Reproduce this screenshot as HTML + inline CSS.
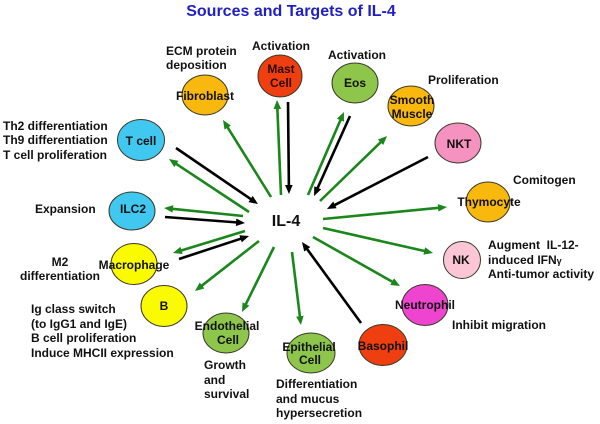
<!DOCTYPE html>
<html>
<head>
<meta charset="utf-8">
<style>
  html,body{margin:0;padding:0;background:#fff;}
  svg{display:block;}
  text{font-family:"Liberation Sans",Arial,sans-serif;font-weight:bold;}
</style>
</head>
<body>
<svg width="600" height="424" viewBox="0 0 600 424" xmlns="http://www.w3.org/2000/svg">
  <defs>
    <marker id="ag" viewBox="0 -4 9 8" markerWidth="9" markerHeight="8" refX="2" refY="0" orient="auto" markerUnits="userSpaceOnUse">
      <path d="M0,-3.8 L9,0 L0,3.8 z" fill="#1b861b"/>
    </marker>
    <marker id="ak" viewBox="0 -4 9 8" markerWidth="9" markerHeight="8" refX="2" refY="0" orient="auto" markerUnits="userSpaceOnUse">
      <path d="M0,-3.8 L9,0 L0,3.8 z" fill="#000"/>
    </marker>
  </defs>
  <rect width="600" height="424" fill="#fff"/>

  <!-- Title -->
  <text x="291" y="16" text-anchor="middle" font-size="16" fill="#1f1fc4">Sources and Targets of IL-4</text>

  <!-- Arrows -->
  <g stroke-width="2.6" fill="none">
    <line x1="271" y1="197" x2="226.7" y2="125.9" stroke="#1b861b" marker-end="url(#ag)"/>
    <line x1="281" y1="195" x2="277.3" y2="107" stroke="#1b861b" marker-end="url(#ag)"/>
    <line x1="288" y1="102" x2="288.9" y2="187" stroke="#000" marker-end="url(#ak)"/>
    <line x1="308" y1="195" x2="341.2" y2="118.4" stroke="#1b861b" marker-end="url(#ag)"/>
    <line x1="350" y1="116" x2="316.9" y2="189.6" stroke="#000" marker-end="url(#ak)"/>
    <line x1="320" y1="201" x2="382" y2="140.9" stroke="#1b861b" marker-end="url(#ag)"/>
    <line x1="428" y1="157" x2="333.2" y2="205.8" stroke="#000" marker-end="url(#ak)"/>
    <line x1="323" y1="219" x2="440" y2="207.7" stroke="#1b861b" marker-end="url(#ag)"/>
    <line x1="323" y1="228" x2="426.2" y2="251.4" stroke="#1b861b" marker-end="url(#ag)"/>
    <line x1="313" y1="237" x2="393.9" y2="282.6" stroke="#1b861b" marker-end="url(#ag)"/>
    <line x1="361" y1="323" x2="306.1" y2="247.7" stroke="#000" marker-end="url(#ak)"/>
    <line x1="292" y1="252" x2="300.1" y2="318.1" stroke="#1b861b" marker-end="url(#ag)"/>
    <line x1="274" y1="247" x2="245.1" y2="305.7" stroke="#1b861b" marker-end="url(#ag)"/>
    <line x1="259" y1="241" x2="200.5" y2="286.7" stroke="#1b861b" marker-end="url(#ag)"/>
    <line x1="245" y1="231" x2="179.7" y2="251" stroke="#1b861b" marker-end="url(#ag)"/>
    <line x1="179" y1="259" x2="242.4" y2="238.2" stroke="#000" marker-end="url(#ak)"/>
    <line x1="243" y1="216" x2="171" y2="208.7" stroke="#1b861b" marker-end="url(#ag)"/>
    <line x1="165" y1="217" x2="238" y2="222.5" stroke="#000" marker-end="url(#ak)"/>
    <line x1="249" y1="212" x2="174.8" y2="162.9" stroke="#1b861b" marker-end="url(#ag)"/>
    <line x1="176" y1="148" x2="252.2" y2="200.1" stroke="#000" marker-end="url(#ak)"/>
  </g>

  <!-- Cells -->
  <g stroke="#3a3a2a" stroke-width="1">
    <ellipse cx="205" cy="95" rx="23" ry="20" fill="#f9b80e"/>
    <ellipse cx="280" cy="76" rx="22" ry="21" fill="#ef3f10"/>
    <ellipse cx="355" cy="83" rx="23" ry="20" fill="#8dc64a"/>
    <ellipse cx="411" cy="106" rx="23" ry="20" fill="#f9b80e"/>
    <ellipse cx="458" cy="143" rx="23" ry="20" fill="#f592c0"/>
    <ellipse cx="488" cy="202" rx="22" ry="20" fill="#f9b80e"/>
    <ellipse cx="462" cy="260" rx="18.5" ry="18.5" fill="#fcc6d6"/>
    <ellipse cx="425" cy="305" rx="23" ry="20.5" fill="#ee44d0"/>
    <ellipse cx="383" cy="345" rx="24" ry="20.5" fill="#ef3f10"/>
    <ellipse cx="311" cy="353" rx="24" ry="20" fill="#8dc64a"/>
    <ellipse cx="226" cy="333" rx="23" ry="20" fill="#8dc64a"/>
    <ellipse cx="164" cy="306" rx="23" ry="20.5" fill="#fafa00"/>
    <ellipse cx="134" cy="264" rx="23" ry="20.5" fill="#fafa00"/>
    <ellipse cx="132" cy="211" rx="23" ry="19" fill="#40c8f0"/>
    <ellipse cx="141" cy="140" rx="23.5" ry="20.5" fill="#40c8f0"/>
  </g>

  <!-- IL-4 -->
  <text x="286" y="226" text-anchor="middle" font-size="16" fill="#111">IL-4</text>

  <!-- Cell labels -->
  <g font-size="12" fill="#111" text-anchor="middle">
    <text x="205" y="100">Fibroblast</text>
    <text x="281" y="73" fill="#2a0a00">Mast</text>
    <text x="281" y="87" fill="#2a0a00">Cell</text>
    <text x="355" y="87">Eos</text>
    <text x="412" y="104">Smooth</text>
    <text x="412" y="118">Muscle</text>
    <text x="459" y="148">NKT</text>
    <text x="489" y="206">Thymocyte</text>
    <text x="461" y="264">NK</text>
    <text x="425" y="309">Neutrophil</text>
    <text x="383" y="350">Basophil</text>
    <text x="309" y="351">Epithelial</text>
    <text x="310" y="364">Cell</text>
    <text x="227" y="330">Endothelial</text>
    <text x="228" y="344">Cell</text>
    <text x="164" y="310">B</text>
    <text x="134" y="269">Macrophage</text>
    <text x="133" y="213">ILC2</text>
    <text x="141" y="145">T cell</text>
  </g>

  <!-- Function labels -->
  <g font-size="12" fill="#111">
    <text x="166" y="55">ECM protein</text>
    <text x="166" y="69">deposition</text>
    <text x="252" y="50">Activation</text>
    <text x="328" y="59">Activation</text>
    <text x="428" y="84">Proliferation</text>
    <text x="513" y="184">Comitogen</text>
    <text x="488" y="249" xml:space="preserve">Augment  IL-12-</text>
    <text x="488" y="264">induced IFN<tspan font-size="9">γ</tspan></text>
    <text x="488" y="278">Anti-tumor activity</text>
    <text x="452" y="329">Inhibit migration</text>
    <text x="276" y="388">Differentiation</text>
    <text x="276" y="403">and mucus</text>
    <text x="276" y="417">hypersecretion</text>
    <text x="204" y="369">Growth</text>
    <text x="204" y="384">and</text>
    <text x="204" y="398">survival</text>
    <text x="31" y="313">Ig class switch</text>
    <text x="31" y="328">(to IgG1 and IgE)</text>
    <text x="31" y="342">B cell proliferation</text>
    <text x="31" y="357">Induce MHCII expression</text>
    <text x="60" y="266" text-anchor="middle">M2</text>
    <text x="60" y="280" text-anchor="middle">differentiation</text>
    <text x="35" y="213">Expansion</text>
    <text x="3" y="130">Th2 differentiation</text>
    <text x="3" y="144">Th9 differentiation</text>
    <text x="3" y="159">T cell proliferation</text>
  </g>
</svg>
</body>
</html>
